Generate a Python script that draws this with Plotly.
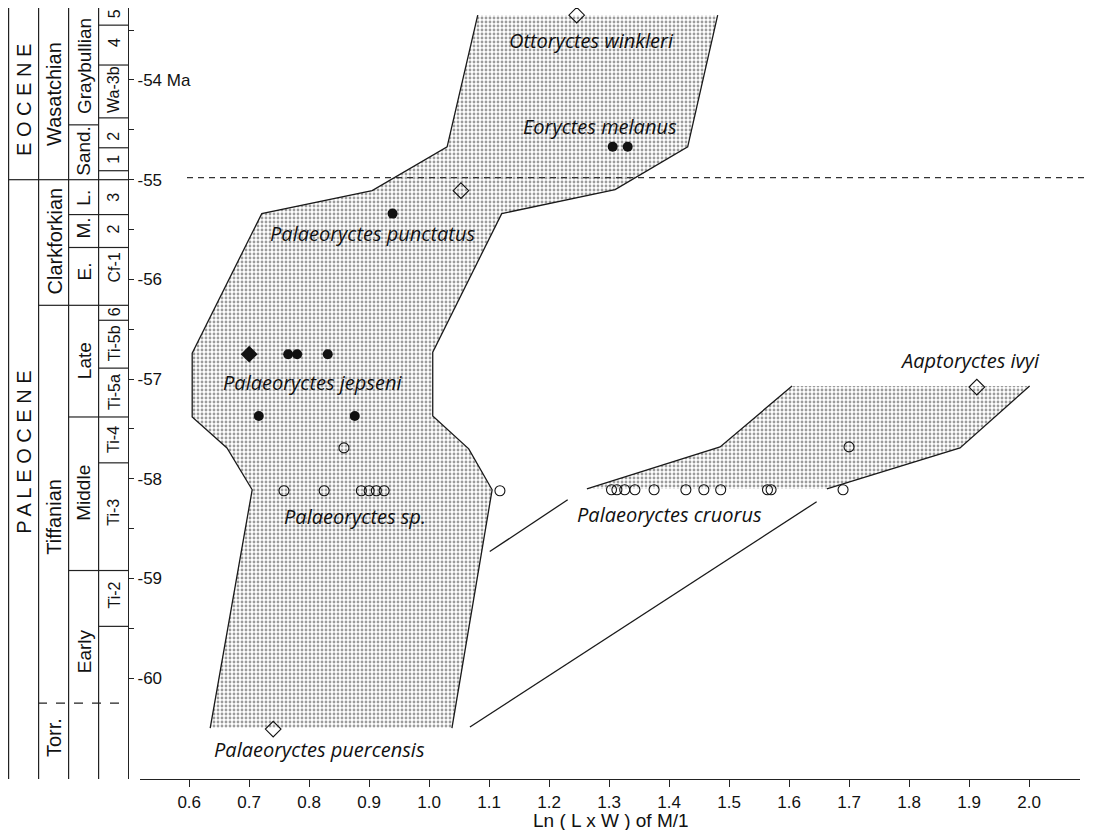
import plotly.graph_objects as go

# ---------------- data ----------------
# Specimens: Ln(L x W) of M/1 (x) and age in Ma (y)
open_circle_x = [0.758, 0.825, 0.887, 0.900, 0.912, 0.925, 1.118, 0.858,
                 1.304, 1.313, 1.326, 1.343, 1.375, 1.428, 1.458, 1.486,
                 1.564, 1.570, 1.690, 1.700]
open_circle_y = [-58.12, -58.12, -58.12, -58.12, -58.12, -58.12, -58.12, -57.69,
                 -58.11, -58.11, -58.11, -58.11, -58.11, -58.11, -58.11, -58.11,
                 -58.11, -58.11, -58.11, -57.68]

filled_circle_x = [0.765, 0.780, 0.831, 0.716, 0.876, 0.939, 1.306, 1.331]
filled_circle_y = [-56.75, -56.75, -56.75, -57.37, -57.37, -55.34, -54.67, -54.67]

filled_diamond_x = [0.700]
filled_diamond_y = [-56.75]

open_diamond_x = [1.246, 1.053, 1.913, 0.740]
open_diamond_y = [-53.35, -55.11, -57.08, -60.51]

# Lineage envelope 1 (Palaeoryctes -> Ottoryctes)
env1_left_x = [1.081, 1.030, 0.905, 0.721, 0.605, 0.605, 0.663, 0.705, 0.635]
env1_left_y = [-53.35, -54.67, -55.11, -55.34, -56.74, -57.38, -57.69, -58.11, -60.50]
env1_right_x = [1.481, 1.431, 1.310, 1.121, 1.006, 1.006, 1.066, 1.105, 1.038]
env1_right_y = [-53.35, -54.67, -55.10, -55.34, -56.73, -57.37, -57.70, -58.11, -60.50]

# Lineage envelope 2 (P. cruorus -> Aaptoryctes)
env2_upper_x = [1.605, 1.485, 1.263]
env2_upper_y = [-57.07, -57.68, -58.10]
env2_lower_x = [2.001, 1.885, 1.663]
env2_lower_y = [-57.07, -57.69, -58.10]

# Connecting lines
link_short_x = [1.231, 1.101]
link_short_y = [-58.21, -58.73]
link_long_x = [1.646, 1.068]
link_long_y = [-58.23, -60.49]

species_labels = ["Ottoryctes winkleri", "Eoryctes melanus", "Palaeoryctes punctatus",
                  "Palaeoryctes jepseni", "Palaeoryctes sp.", "Palaeoryctes cruorus",
                  "Aaptoryctes ivyi", "Palaeoryctes puercensis"]
species_label_x = [1.271, 1.285, 0.905, 0.806, 0.876, 1.401, 1.901, 0.818]
species_label_y = [-53.60, -54.47, -55.54, -57.03, -58.38, -58.36, -56.81, -60.72]

# Time scale
age_ticks = [-53.5, -54, -54.5, -55, -55.5, -56, -56.5, -57, -57.5, -58, -58.5, -59, -59.5, -60]
age_ticktext = ["", "-54 Ma", "", "-55", "", "-56", "", "-57", "", "-58", "", "-59", "", "-60"]

epoch_bounds = [-55.0]
nalma_bounds = [-55.0, -56.26]
sub_bounds = [-54.45, -55.0, -55.35, -55.68, -56.26, -57.38, -58.92]
zone_bounds = [-53.45, -53.85, -54.38, -54.68, -54.91, -55.0, -55.35, -55.68,
               -56.26, -56.41, -56.89, -57.38, -57.84, -58.92, -59.48]
torr_bound = -60.25

epoch_names = ["E O C E N E", "P A L E O C E N E"]
epoch_pos = [-54.20, -57.74]
nalma_names = ["Wasatchian", "Clarkforkian", "Tiffanian", "Torr."]
nalma_pos = [-54.14, -55.62, -58.38, -60.60]
sub_names = ["Graybullian", "Sand.", "L.", "M.", "E.", "Late", "Middle", "Early"]
sub_pos = [-53.86, -54.71, -55.18, -55.49, -55.92, -56.82, -58.14, -59.73]
zone_names = ["5", "4", "Wa-3b", "2", "1", "3", "2", "Cf-1", "6", "Ti-5b", "Ti-5a", "Ti-4", "Ti-3", "Ti-2"]
zone_pos = [-53.34, -53.63, -54.10, -54.57, -54.80, -55.18, -55.50, -55.88,
            -56.33, -56.64, -57.13, -57.61, -58.34, -59.17]

# ---------------- layout geometry (pixels of the 1098x830 page) ----------------
OFF = 8                     # page body margin
W, H = 1098 - OFF, 830 - OFF

def px(x):
    return (x - OFF) / W

def py(y):
    return 1 - (y - OFF) / H

Y_RANGE = [-61.011, -53.278]
X_RANGE = [0.518, 2.085]
col_x = [8, 38, 68, 98, 128]

fig = go.Figure()

fill_style = dict(shape=".", size=4, solidity=0.4, fgcolor="#3a3a3a", bgcolor="white")

fig.add_trace(go.Scatter(
    x=env1_left_x + env1_right_x[::-1], y=env1_left_y + env1_right_y[::-1],
    fill="toself", mode="none", fillpattern=fill_style, fillcolor="white", hoverinfo="skip"))
fig.add_trace(go.Scatter(
    x=env2_upper_x + env2_lower_x[::-1], y=env2_upper_y + env2_lower_y[::-1],
    fill="toself", mode="none", fillpattern=fill_style, fillcolor="white", hoverinfo="skip"))

edge = dict(color="#1a1a1a", width=1.3)
for xs, ys in [(env1_left_x, env1_left_y), (env1_right_x, env1_right_y),
               (env2_upper_x, env2_upper_y), (env2_lower_x, env2_lower_y),
               (link_short_x, link_short_y), (link_long_x, link_long_y)]:
    fig.add_trace(go.Scatter(x=xs, y=ys, mode="lines", line=edge, hoverinfo="skip"))

fig.add_trace(go.Scatter(x=open_circle_x, y=open_circle_y, mode="markers",
                         marker=dict(symbol="circle-open", size=10, color="#111", line=dict(width=1.1))))
fig.add_trace(go.Scatter(x=filled_circle_x, y=filled_circle_y, mode="markers",
                         marker=dict(symbol="circle", size=10, color="#111")))
fig.add_trace(go.Scatter(x=filled_diamond_x, y=filled_diamond_y, mode="markers",
                         marker=dict(symbol="diamond", size=13, color="#111")))
fig.add_trace(go.Scatter(x=open_diamond_x, y=open_diamond_y, mode="markers",
                         marker=dict(symbol="diamond-open", size=12, color="#111", line=dict(width=1.1))))

shapes = []
line_k = dict(color="#222", width=1.2)
y_bot = py(779)
# column verticals
for cx in col_x[:-1]:
    shapes.append(dict(type="line", xref="paper", yref="paper", x0=px(cx + 0.6), x1=px(cx + 0.6),
                       y0=y_bot, y1=1, line=line_k))
# right frame
shapes.append(dict(type="line", xref="paper", yref="paper", x0=px(1091), x1=px(1091),
                   y0=py(777), y1=1, line=line_k))

def hline(y, c0, c1, dash=None):
    d = dict(type="line", xref="paper", yref="y", x0=px(col_x[c0]), x1=px(col_x[c1]),
             y0=y, y1=y, line=dict(color="#222", width=1.2))
    if dash:
        d["line"]["dash"] = dash
    shapes.append(d)

for b in epoch_bounds:
    hline(b, 0, 1)
for b in nalma_bounds:
    hline(b, 1, 2)
for b in sub_bounds:
    hline(b, 2, 3)
for b in zone_bounds:
    hline(b, 3, 4)
hline(torr_bound, 1, 4, dash="dash")

# -55 Ma boundary
shapes.append(dict(type="line", xref="paper", yref="y", x0=px(187), x1=px(1085),
                   y0=-54.98, y1=-54.98, line=dict(color="#333", width=1.2, dash="6px,5px")))

annotations = []
ARIAL = "Liberation Sans, Arial, sans-serif"

def col_text(names, pos, ci, size):
    cx = (col_x[ci] + col_x[ci + 1]) / 2 + 1
    for t, yv in zip(names, pos):
        annotations.append(dict(text=t, xref="paper", yref="y", x=px(cx), y=yv,
                                textangle=-90, showarrow=False, xanchor="center", yanchor="middle",
                                font=dict(family=ARIAL, size=size, color="#111")))

col_text(epoch_names, epoch_pos, 0, 20)
col_text(nalma_names, nalma_pos, 1, 20)
col_text(sub_names, sub_pos, 2, 19)
col_text(zone_names, zone_pos, 3, 16)

for t, xv, yv in zip(species_labels, species_label_x, species_label_y):
    annotations.append(dict(text="<i>" + t + "</i>", x=xv, y=yv, xref="x", yref="y",
                            showarrow=False, xanchor="center", yanchor="middle",
                            font=dict(family="Open Sans, sans-serif", size=20, color="#111")))

annotations.append(dict(text="Ln ( L x W ) of M/1", xref="paper", yref="paper",
                        x=px(611), y=py(820), showarrow=False, xanchor="center", yanchor="middle",
                        font=dict(family=ARIAL, size=19, color="#111")))

fig.update_layout(
    width=W, height=H, margin=dict(l=0, r=0, t=0, b=0),
    paper_bgcolor="white", plot_bgcolor="white", showlegend=False, hovermode=False,
    shapes=shapes, annotations=annotations,
    xaxis=dict(domain=[px(140), px(1080)], range=X_RANGE, showgrid=False, zeroline=False,
               showline=True, linecolor="#222", linewidth=1.3, ticks="outside", ticklen=7,
               tickcolor="#222", tick0=0, dtick=0.1, tickformat=".1f",
               tickfont=dict(family=ARIAL, size=17, color="#111")),
    yaxis=dict(domain=[y_bot, 1], range=Y_RANGE, anchor="free", position=px(128), side="right",
               showgrid=False, zeroline=False, showline=True, linecolor="#222", linewidth=1.2,
               ticks="outside", ticklen=5, tickcolor="#222", tickvals=age_ticks, ticktext=age_ticktext,
               tickfont=dict(family=ARIAL, size=17, color="#111")),
)

fig.write_html("out.html")
